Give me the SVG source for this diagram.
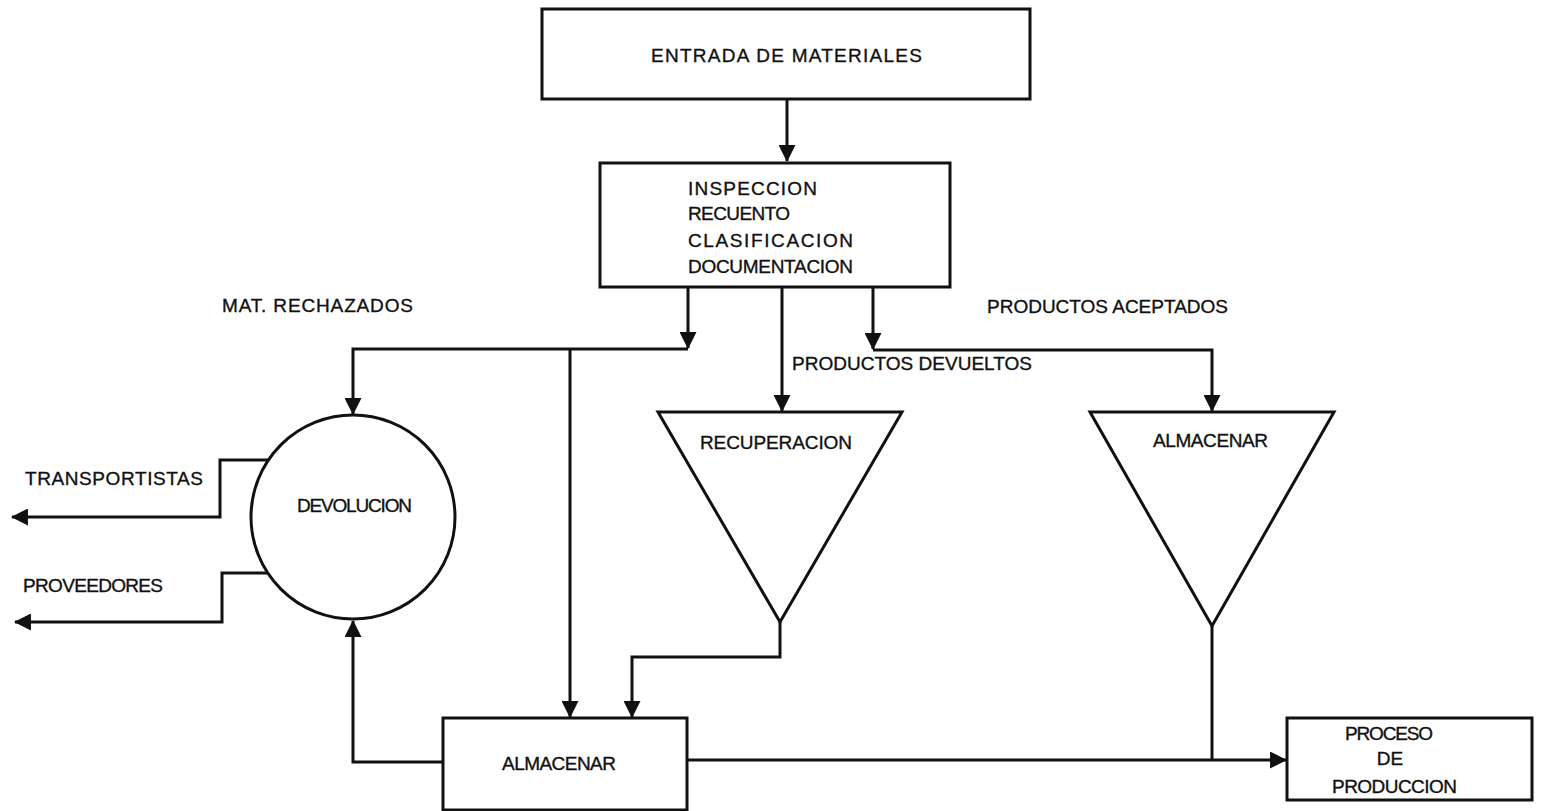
<svg xmlns="http://www.w3.org/2000/svg" width="1541" height="811" viewBox="0 0 1541 811">
  <style>
    .shape { fill: #ffffff; stroke: #111111; stroke-width: 3; }
    .wire { fill: none; stroke: #111111; stroke-width: 3; stroke-linejoin: miter; }
    .lbl { font-family: "Liberation Sans", Arial, sans-serif; font-size: 19px; fill: #111111; stroke: #111111; stroke-width: 0.35px; }
  </style>
  <defs>
    <marker id="head" viewBox="0 0 16 16" refX="15" refY="8" markerWidth="17" markerHeight="17" markerUnits="userSpaceOnUse" orient="auto">
      <path d="M0,0 L16,8 L0,16 Z" fill="#111111"/>
    </marker>
  </defs>
  <rect width="1541" height="811" fill="#ffffff"/>

  <!-- connectors -->
  <g id="connectors">
    <path class="wire" d="M787,99 V161" marker-end="url(#head)"/>
    <path class="wire" d="M688,287 V348" marker-end="url(#head)"/>
    <path class="wire" d="M688,349 H353 V414" marker-end="url(#head)"/>
    <path class="wire" d="M570,349 V717" marker-end="url(#head)"/>
    <path class="wire" d="M782,287 V411" marker-end="url(#head)"/>
    <path class="wire" d="M873,287 V349" marker-end="url(#head)"/>
    <path class="wire" d="M873,350 H1212 V411" marker-end="url(#head)"/>
    <path class="wire" d="M780,622 V657 H632 V717" marker-end="url(#head)"/>
    <path class="wire" d="M443,762 H353 V621" marker-end="url(#head)"/>
    <path class="wire" d="M687,760 H1286" marker-end="url(#head)"/>
    <path class="wire" d="M1212,626 V760"/>
    <path class="wire" d="M268,460 H220 V517 H12" marker-end="url(#head)"/>
    <path class="wire" d="M268,573 H222 V622 H15" marker-end="url(#head)"/>
  </g>

  <g id="entrada">
    <rect class="shape" x="542" y="9" width="488" height="90" stroke-width="4"/>
    <text class="lbl" x="651" y="62" font-size="20" textLength="271" lengthAdjust="spacing">ENTRADA DE MATERIALES</text>
  </g>

  <g id="inspeccion">
    <rect class="shape" x="600" y="163" width="350" height="124"/>
    <text class="lbl" x="688" y="195" textLength="129" lengthAdjust="spacing">INSPECCION</text>
    <text class="lbl" x="688" y="220" textLength="102" lengthAdjust="spacing">RECUENTO</text>
    <text class="lbl" x="688" y="247" textLength="165" lengthAdjust="spacing">CLASIFICACION</text>
    <text class="lbl" x="688" y="273" textLength="165" lengthAdjust="spacing">DOCUMENTACION</text>
  </g>

  <g id="devolucion">
    <circle class="shape" cx="353" cy="517" r="102"/>
    <text class="lbl" x="297" y="512" textLength="115" lengthAdjust="spacing">DEVOLUCION</text>
  </g>

  <g id="recuperacion">
    <polygon class="shape" points="658,412 902,412 780,622"/>
    <text class="lbl" x="700" y="449" textLength="152" lengthAdjust="spacing">RECUPERACION</text>
  </g>

  <g id="almacenar-aceptados">
    <polygon class="shape" points="1090,412 1334,412 1212,626"/>
    <text class="lbl" x="1153" y="447" textLength="115" lengthAdjust="spacing">ALMACENAR</text>
  </g>

  <g id="almacenar">
    <rect class="shape" x="443" y="718" width="244" height="92"/>
    <text class="lbl" x="502" y="770" textLength="114" lengthAdjust="spacing">ALMACENAR</text>
  </g>

  <g id="proceso">
    <rect class="shape" x="1287" y="718" width="245" height="82"/>
    <text class="lbl" x="1345" y="740" textLength="88" lengthAdjust="spacing">PROCESO</text>
    <text class="lbl" x="1390" y="765" text-anchor="middle">DE</text>
    <text class="lbl" x="1332" y="793" textLength="125" lengthAdjust="spacing">PRODUCCION</text>
  </g>

  <!-- flow labels -->
  <g id="labels">
    <text class="lbl" x="222" y="312" textLength="191" lengthAdjust="spacing">MAT. RECHAZADOS</text>
    <text class="lbl" x="792" y="370" textLength="240" lengthAdjust="spacing">PRODUCTOS DEVUELTOS</text>
    <text class="lbl" x="987" y="313" textLength="241" lengthAdjust="spacing">PRODUCTOS ACEPTADOS</text>
    <text class="lbl" x="25" y="485" textLength="178" lengthAdjust="spacing">TRANSPORTISTAS</text>
    <text class="lbl" x="23" y="592" textLength="140" lengthAdjust="spacing">PROVEEDORES</text>
  </g>
</svg>
